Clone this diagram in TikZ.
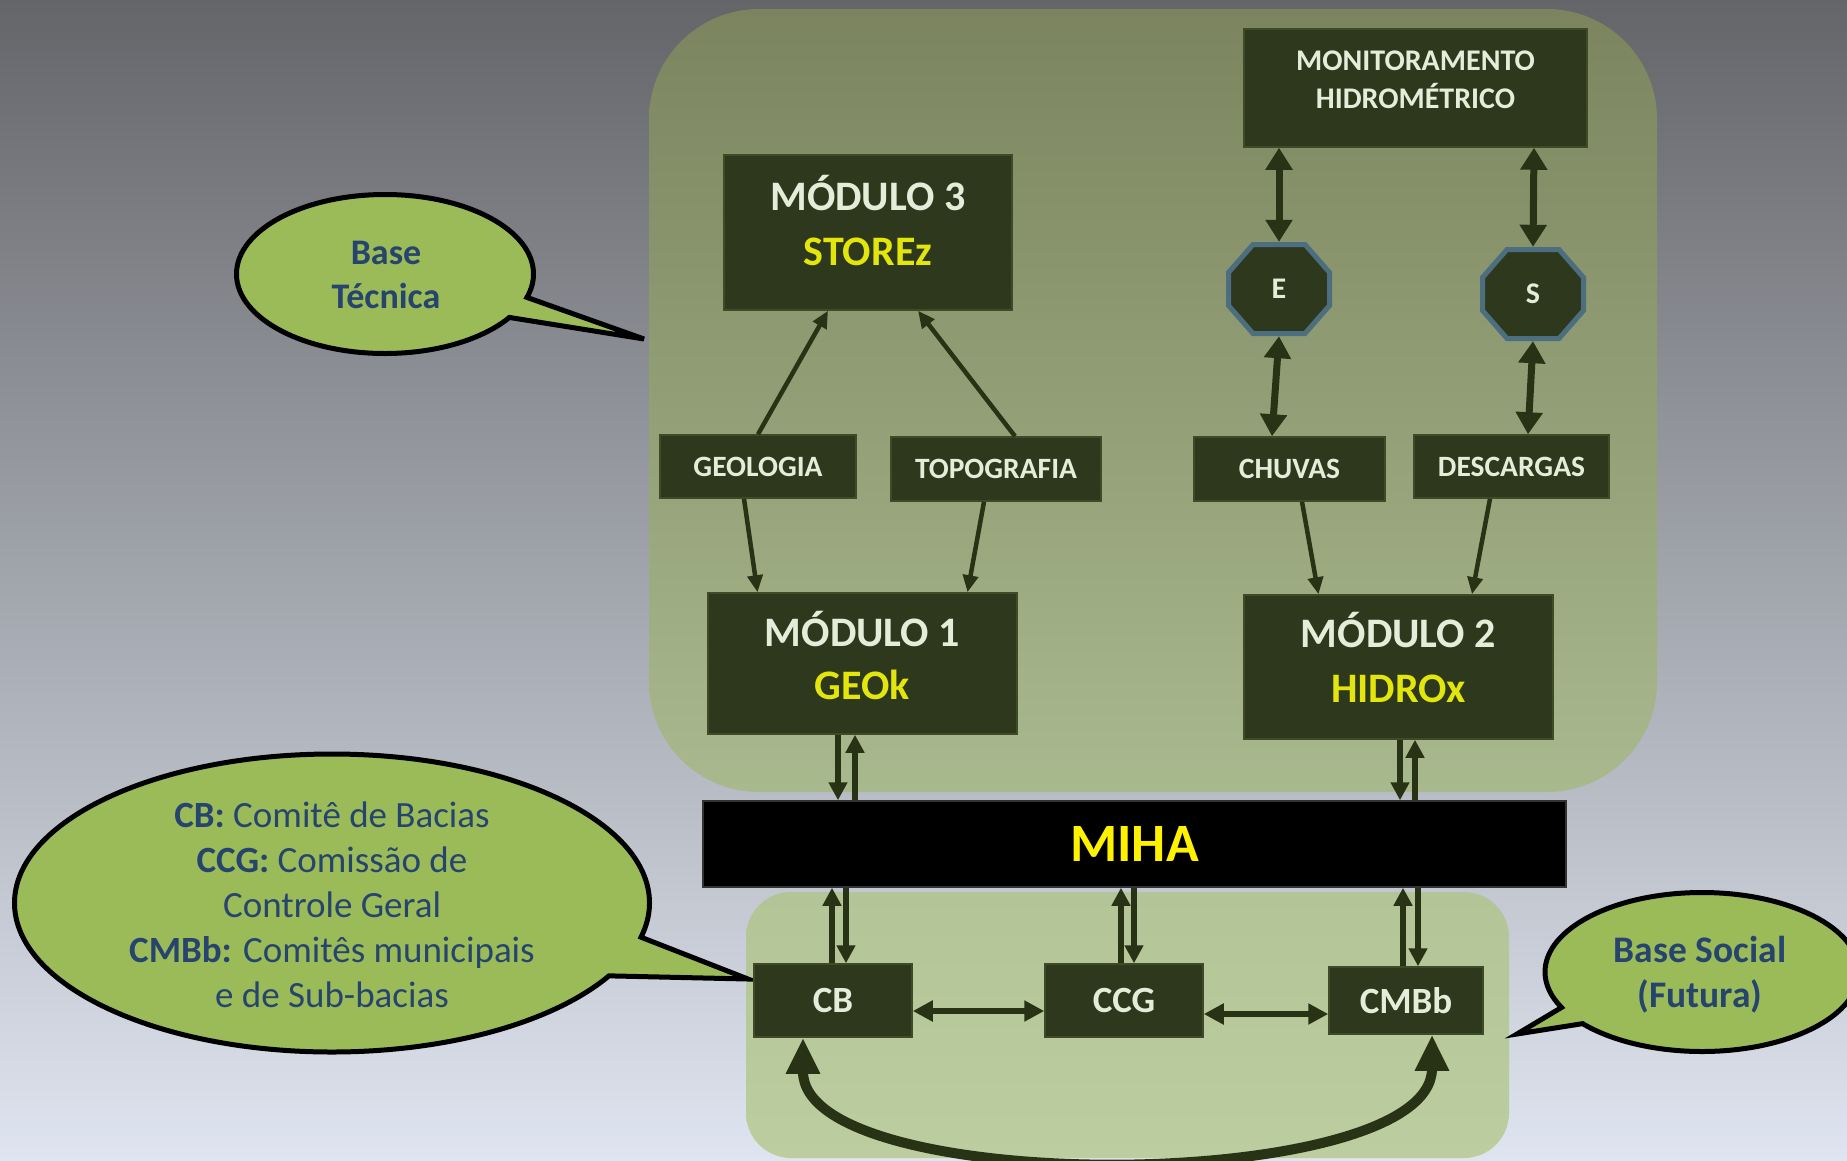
\documentclass[tikz,border=0pt]{standalone}
\usepackage{fontspec}
\setmainfont{Carlito}
\usetikzlibrary{arrows.meta,shapes.geometric,shapes.callouts}
\definecolor{bgtop}{HTML}{646569}
\definecolor{bgmid}{HTML}{A2A7B1}
\definecolor{bgbot}{HTML}{DFE5F0}
\definecolor{boxfill}{HTML}{2E381C}
\definecolor{boxedge}{HTML}{3F4B26}
\definecolor{boxtext}{HTML}{E6ECDA}
\definecolor{ylw}{HTML}{E2E60C}
\definecolor{lnk}{HTML}{283214}
\definecolor{calfill}{HTML}{9BBB59}
\definecolor{caltext}{HTML}{27446E}
\definecolor{octedge}{HTML}{4D6E7E}
\definecolor{regtop}{HTML}{7B845E}
\definecolor{regbot}{HTML}{A9B98E}
\definecolor{soctop}{HTML}{B3C497}
\definecolor{socbot}{HTML}{BCCDA0}
\newcommand{\fsz}[2]{\fontsize{#1}{#2}\selectfont}
\newcommand{\dropby}[1]{\rule[-#1]{0pt}{#1}}
\newcommand{\octagonat}[2]{\filldraw[octpath] (#1,#2) ++(-26,-44.5) -- ++(52,0) -- ++(24.5,28) -- ++(0,33) -- ++(-24.5,28) -- ++(-52,0) -- ++(-24.5,-28) -- ++(0,-33) -- cycle;}
\begin{document}
\begin{tikzpicture}[x=1pt,y=-1pt,
  box/.style={draw=boxedge, line width=1.5pt, fill=boxfill, text=boxtext, font=\bfseries, inner sep=0pt, align=center},
  octpath/.style={draw=octedge, line width=5pt, fill=boxfill, line join=miter},
  oct/.style={minimum width=106pt, minimum height=94pt, text=boxtext, font=\bfseries\fsz{30}{34}, inner sep=0pt},
  arr/.style={draw=lnk, line width=4.5pt, -{Triangle[length=17pt,width=15pt]}},
  darr/.style={draw=lnk, line width=7pt, {Triangle[length=22pt,width=26pt]}-{Triangle[length=22pt,width=26pt]}},
  marr/.style={draw=lnk, line width=6pt, -{Triangle[length=18pt,width=18pt]}},
  harr/.style={draw=lnk, line width=5.5pt, {Triangle[length=20pt,width=20pt]}-{Triangle[length=20pt,width=20pt]}},
  carr/.style={draw=lnk, line width=10pt, {Triangle[length=36pt,width=32pt]}-{Triangle[length=36pt,width=32pt]}},
  call/.style={ellipse callout, draw=black, line width=5pt, fill=calfill, inner sep=0pt},
  caltxt/.style={text=caltext, align=center, inner sep=0pt}
]
\useasboundingbox (0,0) rectangle (1847,1160);
\clip (0,0) rectangle (1847,1160);
\shade[top color=bgtop, middle color=bgmid, bottom color=bgbot] (0,0) rectangle (1847,1160);

% regions
\node[rounded corners=110pt, top color=regtop, bottom color=regbot, minimum width=1008pt, minimum height=783pt, inner sep=0pt] (tec) at (1153,400.5) {};
\node[rounded corners=45pt, top color=soctop, bottom color=socbot, minimum width=763pt, minimum height=266pt, inner sep=0pt] (soc) at (1127.5,1025) {};

% callouts
\node[call, minimum width=297pt, minimum height=159pt, callout absolute pointer={(644,339)}, callout pointer arc=16] (cbt) at (385,274) {};
\node[caltxt, font=\bfseries\fsz{36}{44}] (tbt) at (386,275) {Base\\Técnica};
\node[call, minimum width=635pt, minimum height=298pt, callout absolute pointer={(748,979)}, callout pointer arc=16] (cleg) at (332,903) {};
\node[caltxt, font=\fsz{37}{45}] (tleg) at (332,905) {\textbf{CB:} Comitê de Bacias\\\textbf{CCG:} Comissão de\\Controle Geral\\\textbf{CMBb:} Comitês municipais\\e de Sub-bacias};
\node[call, minimum width=314pt, minimum height=159pt, callout absolute pointer={(1517,1034)}, callout pointer arc=14] (cbs) at (1702,972) {};
\node[caltxt, font=\bfseries\fsz{37.5}{45}] (tbs) at (1700,975) {Base Social\\(Futura)};

% boxes
\node[box, minimum width=343pt, minimum height=118pt, font=\bfseries\fsz{30}{38}] (mon) at (1415.5,88) {MONITORAMENTO\\HIDROMÉTRICO\dropby{16pt}};
\node[box, minimum width=288pt, minimum height=155pt, font=\bfseries\fsz{42}{55}] (m3) at (868,232.5) {MÓDULO 3\\\textcolor{ylw}{STOREz}\dropby{24pt}};
\octagonat{1279}{289}
\node[oct] (e) at (1279,289) {E};
\octagonat{1533}{294}
\node[oct] (s) at (1533,294) {S};
\node[box, minimum width=196pt, minimum height=63pt, font=\bfseries\fsz{29.5}{32}] (geo) at (758,466.5) {GEOLOGIA};
\node[box, minimum width=210pt, minimum height=64pt, font=\bfseries\fsz{29.5}{32}] (topo) at (996,469) {TOPOGRAFIA};
\node[box, minimum width=191pt, minimum height=64pt, font=\bfseries\fsz{29.5}{32}] (chu) at (1289.5,469) {CHUVAS};
\node[box, minimum width=195pt, minimum height=63pt, font=\bfseries\fsz{29.5}{32}] (desc) at (1511.5,466.5) {DESCARGAS};
\node[box, minimum width=309pt, minimum height=141pt, font=\bfseries\fsz{42}{53}] (m1) at (862.5,663.5) {MÓDULO 1\\\textcolor{ylw}{GEOk}\dropby{16pt}};
\node[box, minimum width=309pt, minimum height=144pt, font=\bfseries\fsz{42}{55}] (m2) at (1398.5,667) {MÓDULO 2\\\textcolor{ylw}{HIDROx}\dropby{19pt}};
\node[box, fill=black, draw=black!80, text=yellow, minimum width=863pt, minimum height=86pt, font=\bfseries\fsz{54}{60}] (miha) at (1134.5,844) {MIHA};
\node[box, minimum width=158pt, minimum height=73pt, font=\bfseries\fsz{37}{40}] (cb) at (833,1000.5) {CB};
\node[box, minimum width=158pt, minimum height=73pt, font=\bfseries\fsz{37}{40}] (ccg) at (1124,1000.5) {CCG};
\node[box, minimum width=154pt, minimum height=67pt, font=\bfseries\fsz{37}{40}] (cmbb) at (1406,1000.5) {CMBb};

% connectors upper part
\draw[arr] (geo.north) -- ([xshift=-40pt]m3.south);
\draw[arr] ([xshift=19pt]topo.north) -- ([xshift=50pt]m3.south);
\draw[arr] ([xshift=-14pt]geo.south) -- ([xshift=-105pt]m1.north);
\draw[arr] ([xshift=-12pt]topo.south) -- ([xshift=105pt]m1.north);
\draw[arr] ([xshift=12.5pt]chu.south) -- ([xshift=-80pt]m2.north);
\draw[arr] ([xshift=-21.5pt]desc.south) -- ([xshift=73.5pt]m2.north);
\draw[darr] ([xshift=-136.5pt]mon.south) -- (e.north);
\draw[darr] ([xshift=118.5pt]mon.south) -- (s.north);
\draw[darr] (e.south) -- ([xshift=-17.5pt]chu.north);
\draw[darr] (s.south) -- ([xshift=16.5pt]desc.north);

% MIHA links
\draw[marr] ([xshift=-24.5pt]m1.south) -- ([xshift=-296.5pt]miha.north);
\draw[marr] ([xshift=-279.5pt]miha.north) -- ([xshift=-7.5pt]m1.south);
\draw[marr] ([xshift=1.5pt]m2.south) -- ([xshift=265.5pt]miha.north);
\draw[marr] ([xshift=280.5pt]miha.north) -- ([xshift=16.5pt]m2.south);
\draw[marr] ([xshift=-1pt]cb.north) -- ([xshift=-302.5pt]miha.south);
\draw[marr] ([xshift=-288.5pt]miha.south) -- ([xshift=13pt]cb.north);
\draw[marr] ([xshift=-3pt]ccg.north) -- ([xshift=-13.5pt]miha.south);
\draw[marr] ([xshift=-0.5pt]miha.south) -- ([xshift=10pt]ccg.north);
\draw[marr] ([xshift=-3pt]cmbb.north) -- ([xshift=268.5pt]miha.south);
\draw[marr] ([xshift=283.5pt]miha.south) -- ([xshift=12pt]cmbb.north);

% social links
\draw[harr] ([yshift=-10.5pt]cb.east) -- ([yshift=-10.5pt]ccg.west);
\draw[harr] ([yshift=-13.5pt]ccg.east) -- ([yshift=-13.5pt]cmbb.west);
\draw[carr] ([xshift=-30pt]cb.south) .. controls +(0,160) and +(0,160) .. ([xshift=26pt]cmbb.south);
\end{tikzpicture}
\end{document}
